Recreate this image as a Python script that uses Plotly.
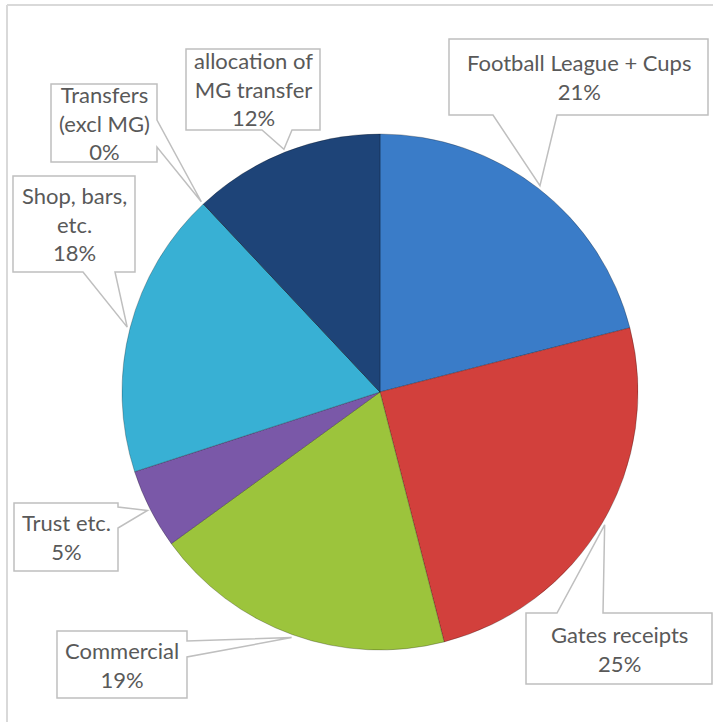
import math
import plotly.graph_objects as go

# ---- data ----
categories = ["Football League + Cups", "Gates receipts", "Commercial", "Trust etc.",
              "Shop, bars, etc.", "Transfers (excl MG)", "allocation of MG transfer"]
values = [21, 25, 19, 5, 18, 0, 12]
label_lines = [["Football League + Cups"], ["Gates receipts"], ["Commercial"], ["Trust etc."],
               ["Shop, bars,", "etc."], ["Transfers", "(excl MG)"], ["allocation of", "MG transfer"]]
colors = ["#3a7cc8", "#d2403c", "#9cc43c", "#7a58a8", "#38b0d4", "#2a6aa8", "#1e4478"]

W, H = 713, 722
# pie geometry (pixels)
CX, CY, R = 380, 392, 258

# callout layout: box (x0, y0, x1, y1) and tail base segment on a box side
callouts = [
    dict(box=(449, 39, 708, 115), base=((493, 115), (557, 115))),
    dict(box=(526, 613, 712, 684), base=((557, 613), (603, 613))),
    dict(box=(57, 631, 187, 698), base=((187, 641), (187, 657))),
    dict(box=(14, 503, 118, 571), base=((118, 507), (118, 528))),
    dict(box=(13, 176, 135, 272), base=((83, 272), (115, 272))),
    dict(box=(51, 84, 157, 162), base=((157, 120), (157, 147))),
    dict(box=(186, 49, 320, 130), base=((262, 130), (292, 130))),
]


def px(x):
    return x / W


def py(y):
    return 1 - y / H


fig = go.Figure(go.Pie(
    labels=categories, values=values, sort=False, direction="clockwise", rotation=0,
    marker=dict(colors=colors, line=dict(color="rgba(0,0,0,0.25)", width=1)),
    textinfo="none", hoverinfo="label+percent", showlegend=False,
    domain=dict(x=[px(CX - R), px(CX + R)], y=[py(CY + R), py(CY - R)]),
))

shapes = []
# frame
shapes.append(dict(type="line", xref="paper", yref="paper", x0=px(7), x1=1.01, y0=py(5), y1=py(5),
                   line=dict(color="#d9d9d9", width=2)))
shapes.append(dict(type="line", xref="paper", yref="paper", x0=px(7), x1=px(7), y0=py(5), y1=-0.01,
                   line=dict(color="#d9d9d9", width=2)))

annotations = []
total = sum(values)
cum = 0
for i, v in enumerate(values):
    mid = (cum + v / 2) / total * 2 * math.pi
    cum += v
    ax = CX + (R + 3) * math.sin(mid)
    ay = CY - (R + 3) * math.cos(mid)
    c = callouts[i]
    x0, y0, x1, y1 = c["box"]
    (bx1, by1), (bx2, by2) = c["base"]
    if by1 == by2 == y1:  # bottom side
        pts = [(x0, y0), (x1, y0), (x1, y1), (max(bx1, bx2), y1), (ax, ay), (min(bx1, bx2), y1), (x0, y1)]
    elif by1 == by2 == y0:  # top side
        pts = [(x0, y0), (min(bx1, bx2), y0), (ax, ay), (max(bx1, bx2), y0), (x1, y0), (x1, y1), (x0, y1)]
    elif bx1 == bx2 == x1:  # right side
        pts = [(x0, y0), (x1, y0), (x1, min(by1, by2)), (ax, ay), (x1, max(by1, by2)), (x1, y1), (x0, y1)]
    else:  # left side
        pts = [(x0, y0), (x1, y0), (x1, y1), (x0, y1), (x0, max(by1, by2)), (ax, ay), (x0, min(by1, by2))]
    path = "M " + " L ".join(f"{px(a):.5f},{py(b):.5f}" for a, b in pts) + " Z"
    shapes.append(dict(type="path", xref="paper", yref="paper", path=path, fillcolor="white",
                       line=dict(color="#bfbfbf", width=1.5), layer="above"))
    text = "<br>".join(label_lines[i] + [f"{v / total * 100:.0f}%"])
    annotations.append(dict(x=px((x0 + x1) / 2), y=py((y0 + y1) / 2), xref="paper", yref="paper",
                            text=text, showarrow=False, xanchor="center", yanchor="middle",
                            align="center", font=dict(family="Lato", size=22, color="#595959")))

fig.update_layout(width=W, height=H, margin=dict(l=0, r=0, t=0, b=0),
                  paper_bgcolor="white", plot_bgcolor="white",
                  shapes=shapes, annotations=annotations)
fig.write_html("out.html", config={"displayModeBar": False},
               post_script="document.body.style.margin='0';")
